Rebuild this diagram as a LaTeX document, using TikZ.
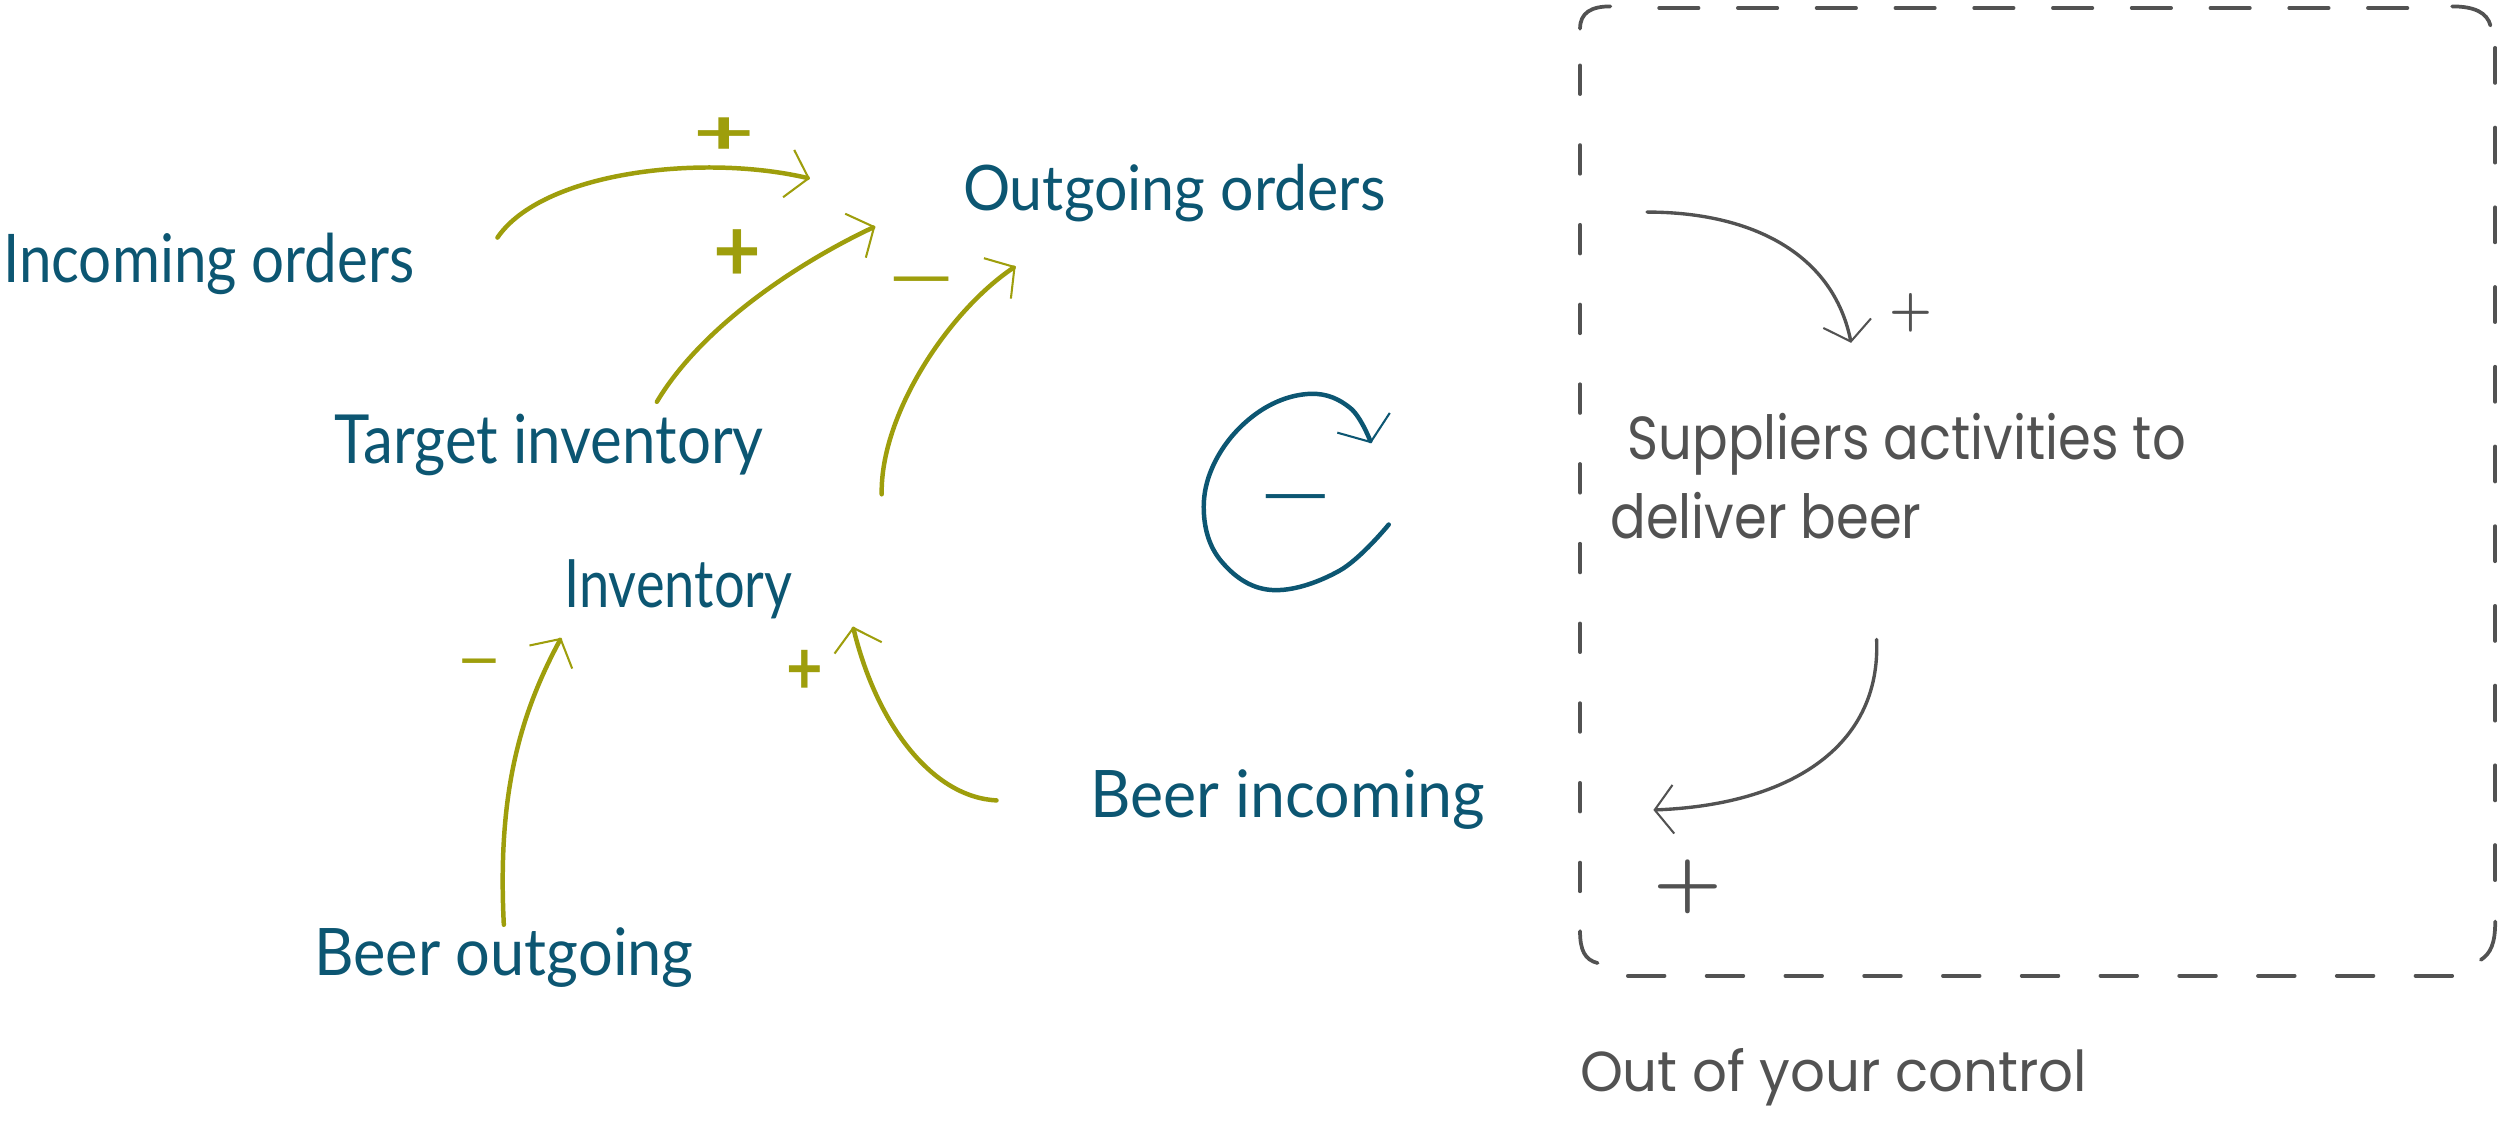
\documentclass[tikz,border=0pt]{standalone}
\usepackage{fontspec}
\usepackage{graphicx}
\newfontfamily\bluefont{Lato}
\newfontfamily\grayfont{Poppins}
\usetikzlibrary{arrows.meta}
\definecolor{inkblue}{RGB}{12,86,114}
\definecolor{arrowolive}{RGB}{158,158,12}
\definecolor{pencil}{RGB}{82,82,82}
\newlength\un \setlength\un{0.3mm}
\newcommand\fitt[3]{\resizebox{#1\un}{#2\un}{#3}}
\begin{document}
\begin{tikzpicture}[x=0.3mm,y=-0.3mm,
  lbl/.style={inner sep=0pt, outer sep=0pt, anchor=base west},
  bluetxt/.style={lbl, text=inkblue, font=\bluefont},
  graytxt/.style={lbl, text=pencil, font=\grayfont},
  sign/.style={inner sep=0pt, outer sep=0pt, anchor=north},
  boldsign/.style={sign, font=\bluefont\bfseries},
  pencilsign/.style={sign, text=pencil, font=\bfseries},
  olivearrow/.style={draw=arrowolive, line width=2.4pt, line cap=round,
    -{Straight Barb[length=11pt,width=26pt,line width=1.1pt]}},
  pencilarrow/.style={draw=pencil, line width=1.8pt, line cap=round,
    -{Straight Barb[length=10pt,width=26pt,line width=1.1pt]}},
  loopline/.style={draw=inkblue, line width=2.4pt, line cap=round,
    -{Straight Barb[length=11pt,width=30pt,line width=1.1pt]}},
  boxline/.style={draw=pencil, line width=2pt, line cap=round},
]
\useasboundingbox (0,0) rectangle (1568,710);

% text nodes
\node[bluetxt] (incoming) at (2,177) {\fitt{258}{31}{Incoming orders}};
\node[bluetxt] (outgoing) at (604,132) {\fitt{265}{29}{Outgoing orders}};
\node[bluetxt] (target) at (210,290.6) {\fitt{269}{31}{Target inventory}};
\node[bluetxt] (inventory) at (354,381) {\fitt{143}{30}{Inventory}};
\node[bluetxt] (beerin) at (684,513) {\fitt{247}{30}{Beer incoming}};
\node[bluetxt] (beerout) at (197,612) {\fitt{238}{30}{Beer outgoing}};
\node[graytxt] (suppliers) at (1010,288) {\fitt{361}{29}{\vtop{%
  \setbox0\hbox{Suppliers activities to}%
  \baselineskip=1.7241\ht0 \lineskiplimit=-100pt
  \hbox{\kern0.0314\wd0\copy0}\hbox{deliver beer}}}};
\node[graytxt] (outctl) at (991,684.5) {\fitt{318}{27}{Out of your control}};

% connector end points
\coordinate (a1s) at (312,149); \coordinate (a1e) at (508,112);
\coordinate (a2s) at (412,252); \coordinate (a2e) at (549,142);
\coordinate (a3s) at (553,310); \coordinate (a3e) at (637,167);
\coordinate (a4s) at (316,580); \coordinate (a4e) at (352,400);
\coordinate (a5s) at (625,502); \coordinate (a5e) at (535,393);
\coordinate (a6s) at (1033,133); \coordinate (a6e) at (1161,215);
\coordinate (a7s) at (1177,401); \coordinate (a7e) at (1037,508);

\draw[olivearrow] (a1s) .. controls (340,108) and (440,96) .. (a1e);
\draw[olivearrow] (a2s) .. controls (440,205) and (500,165) .. (a2e);
\draw[olivearrow] (a3s) .. controls (552,260) and (595,195) .. (a3e);
\draw[olivearrow] (a4s) .. controls (312,500) and (325,450) .. (a4e);
\draw[olivearrow] (a5s) .. controls (585,500) and (550,455) .. (a5e);
\draw[pencilarrow] (a6s) .. controls (1100,133) and (1150,160) .. (a6e);
\draw[pencilarrow] (a7s) .. controls (1180,470) and (1120,505) .. (a7e);

% polarity signs
\node[boldsign, text=arrowolive] (p1) at (454,74) {\fitt{38.5}{23}{+}};
\node[boldsign, text=arrowolive] (p2) at (462.5,144) {\fitt{30}{32.5}{+}};
\node[boldsign, text=arrowolive] (m3) at (578,173.5) {\fitt{49}{11}{–}};
\node[boldsign, text=arrowolive] (m4) at (300.5,413.5) {\fitt{30}{11}{–}};
\node[boldsign, text=arrowolive] (p5) at (504.5,408) {\fitt{23}{27.7}{+}};
\node[pencilsign] (p6) at (1198.5,184) {\fitt{26.9}{20.1}{+}};
\node[pencilsign] (p7) at (1058.5,539) {\fitt{43.2}{28}{+}};

% balancing loop symbol
\draw[loopline] plot[smooth, tension=0.65] coordinates {(871,329) (840,358) (797,370) (766,352) (755,320) (764,286) (790,258) (822,247) (847,256) (860,278)};
\node[boldsign, text=inkblue] (loopsign) at (812.7,310) {\fitt{53}{10}{–}};

% dashed boundary
\draw[boxline, dash pattern=on 7.41mm off 7.41mm] (1040.6,5) -- (1512,5);
\draw[boxline, dash pattern=on 6.9mm off 7.92mm] (1021,612) -- (1540,612);
\draw[boxline, dash pattern=on 5.4mm off 9.6mm] (991,41) -- (991,561);
\draw[boxline, dash pattern=on 6.6mm off 8.4mm] (1565,30) -- (1565,560);
\draw[boxline] (991,18) .. controls (991,8) and (998,4) .. (1010,4);
\draw[boxline] (1538,4) .. controls (1552,4) and (1560,8) .. (1562,16);
\draw[boxline] (991,584) .. controls (991,596) and (994,602) .. (1002,604);
\draw[boxline] (1565,578) .. controls (1565,592) and (1562,598) .. (1556,602);
\end{tikzpicture}
\end{document}
